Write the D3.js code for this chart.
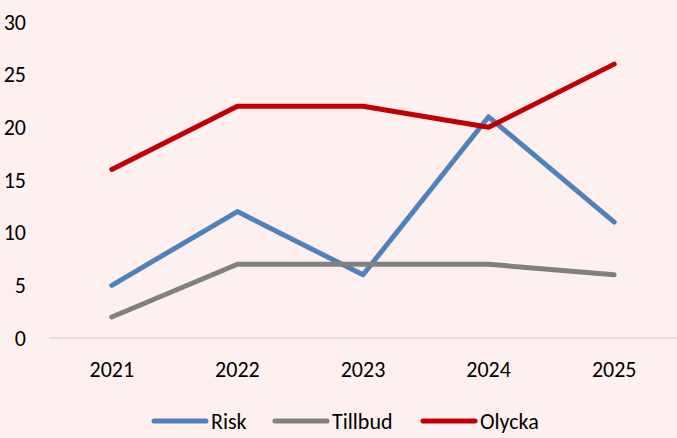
<!DOCTYPE html>
<html>
<head>
<meta charset="utf-8">
<script src="https://cdn.jsdelivr.net/npm/d3@7"></script>
<style>
  body { margin: 0; background: #fff0f0; }
  svg { display: block; font-family: Carlito, Calibri, Lato, sans-serif; }
</style>
</head>
<body>
<div id="chart"></div>
<script>
const years = ["2021", "2022", "2023", "2024", "2025"];
const risk = [5, 12, 6, 21, 11];
const tillbud = [2, 7, 7, 7, 6];
const olycka = [16, 22, 22, 20, 26];
const yTicks = [0, 5, 10, 15, 20, 25, 30];

const series = [
  {name: "Risk", values: risk, color: "#4f81bd"},
  {name: "Tillbud", values: tillbud, color: "#808080"},
  {name: "Olycka", values: olycka, color: "#c00000"}
];

const width = 677, height = 438;
const margin = {top: 22, right: 0, bottom: 100, left: 49};
const fontSize = 22;

const svg = d3.select("#chart")
  .append("svg")
  .attr("width", width)
  .attr("height", height);

svg.append("rect")
  .attr("width", width).attr("height", height)
  .attr("fill", "#fff0f0");

let x = d3.scaleBand()
  .domain(years)
  .range([margin.left, width - margin.right]);

let y = d3.scaleLinear()
  .domain([0, 30])
  .range([338, margin.top]);

// y labels
svg.append("g")
  .selectAll("text")
  .data(yTicks)
  .enter().append("text")
  .attr("x", 26)
  .attr("y", d => y(d))
  .attr("dy", "0.35em")
  .attr("text-anchor", "end")
  .attr("font-size", fontSize)
  .attr("fill", "#000")
  .text(d => d);

// baseline
svg.append("line")
  .attr("x1", margin.left).attr("x2", width)
  .attr("y1", y(0)).attr("y2", y(0))
  .attr("stroke", "#d9d9d9")
  .attr("stroke-width", 1.5);

// x labels
svg.append("g")
  .selectAll("text")
  .data(years)
  .enter().append("text")
  .attr("x", d => x(d) + x.bandwidth() / 2)
  .attr("y", 369)
  .attr("dy", "0.35em")
  .attr("text-anchor", "middle")
  .attr("font-size", fontSize)
  .attr("fill", "#000")
  .text(d => d);

let line = d3.line()
  .x((d, i) => x(years[i]) + x.bandwidth() / 2)
  .y(d => y(d));

svg.append("g")
  .selectAll("path")
  .data(series)
  .enter().append("path")
  .attr("d", d => line(d.values))
  .attr("fill", "none")
  .attr("stroke", d => d.color)
  .attr("stroke-width", 5)
  .attr("stroke-linecap", "round")
  .attr("stroke-linejoin", "round");

// legend
const legendX = [152, 273, 421];
const legend = svg.append("g")
  .selectAll("g")
  .data(series)
  .enter().append("g")
  .attr("transform", (d, i) => "translate(" + legendX[i] + ",421)");

legend.append("line")
  .attr("x1", 2).attr("x2", 54)
  .attr("y1", 0).attr("y2", 0)
  .attr("stroke", d => d.color)
  .attr("stroke-width", 5)
  .attr("stroke-linecap", "round");

legend.append("text")
  .attr("x", 59)
  .attr("y", 0)
  .attr("dy", "0.35em")
  .attr("font-size", fontSize)
  .attr("fill", "#000")
  .text(d => d.name);
</script>
</body>
</html>
